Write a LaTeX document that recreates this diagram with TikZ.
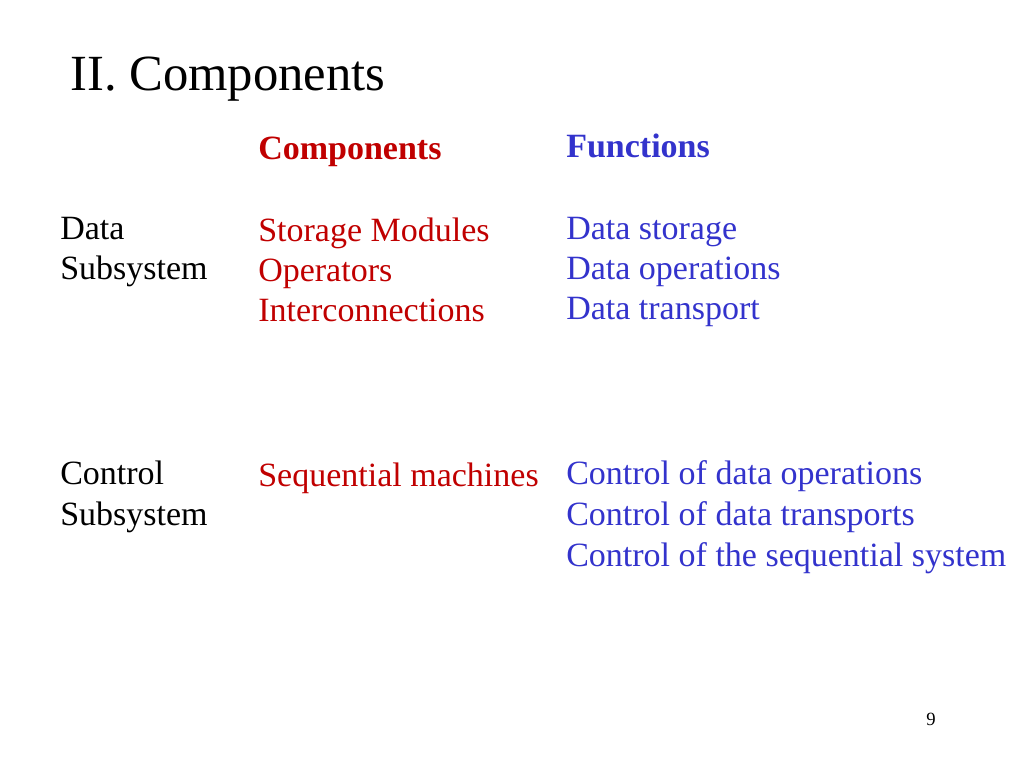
\documentclass[tikz,border=0pt]{standalone}
\usepackage{fontspec}
\setmainfont{Liberation Serif}
\definecolor{cred}{RGB}{192,0,0}
\definecolor{cblue}{RGB}{51,51,204}
\begin{document}
\begin{tikzpicture}[x=0.75pt,y=-0.75pt,
  t/.style={anchor=base west,inner sep=0pt,font=\fontsize{25.5}{30}\selectfont},
  r/.style={t,text=cred},b/.style={t,text=cblue}]
\useasboundingbox (0,0) rectangle (1024,768);
\node[anchor=base west,inner sep=0pt,font=\fontsize{38}{44}\selectfont] (title) at (70,90) {II. Components};
\node[r,font=\fontsize{25.5}{30}\selectfont\bfseries] (hc) at (258,159) {Components};
\node[b,font=\fontsize{25.5}{30}\selectfont\bfseries] (hf) at (566,157) {Functions};
\node[t] (d1) at (60,239) {Data};
\node[t] (d2) at (60,279) {Subsystem};
\node[r] (c1) at (258,241) {Storage Modules};
\node[r] (c2) at (258,281) {Operators};
\node[r] (c3) at (258,321) {Interconnections};
\node[b] (f1) at (566,239) {Data storage};
\node[b] (f2) at (566,279) {Data operations};
\node[b] (f3) at (566,319) {Data transport};
\node[t] (e1) at (60,484) {Control};
\node[t] (e2) at (60,525) {Subsystem};
\node[r] (s1) at (258,486) {Sequential machines};
\node[b] (g1) at (566,484) {Control of data operations};
\node[b] (g2) at (566,525) {Control of data transports};
\node[b] (g3) at (566,566) {Control of the sequential system};
\node[anchor=base west,inner sep=0pt,font=\fontsize{14}{16}\selectfont] (pg) at (926,725) {9};
\end{tikzpicture}
\end{document}
